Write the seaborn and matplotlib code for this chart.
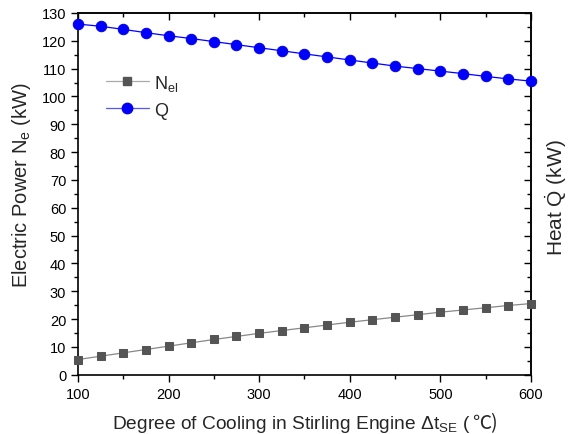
import matplotlib
matplotlib.use("Agg")
import matplotlib.pyplot as plt
import seaborn as sns
import numpy as np
import pandas as pd
from matplotlib.ticker import MultipleLocator, NullFormatter
from matplotlib.lines import Line2D

dt_se = [100, 125, 150, 175, 200, 225, 250, 275, 300, 325, 350,
         375, 400, 425, 450, 475, 500, 525, 550, 575, 600]
n_el = [5.5, 6.7, 7.9, 9.1, 10.3, 11.5, 12.7, 13.8, 14.9, 15.9, 16.9,
        17.9, 18.9, 19.8, 20.7, 21.6, 22.5, 23.3, 24.1, 24.9, 25.6]
q_heat = [126.0, 125.2, 124.1, 122.9, 121.8, 120.8, 119.7, 118.6, 117.5, 116.4, 115.3,
          114.2, 113.1, 112.0, 110.9, 110.0, 109.1, 108.2, 107.2, 106.3, 105.5]
legend_labels = ["N$_{el}$", "Q"]

sns.set_theme(style="ticks")
plt.rcParams['font.family'] = ['Liberation Sans', 'DejaVu Sans']
plt.rcParams['mathtext.fontset'] = 'custom'
plt.rcParams['mathtext.rm'] = 'Liberation Sans'
plt.rcParams['mathtext.it'] = 'Liberation Sans:italic'
plt.rcParams['mathtext.default'] = 'regular'
plt.rcParams['mathtext.fallback'] = 'stix'

df = pd.DataFrame({"x": dt_se, "nel": n_el, "q": q_heat})

W, H = 569, 435
fig = plt.figure(figsize=(W / 100, H / 100), dpi=100)
ax = fig.add_axes([0.137, 0.136, 0.796, 0.832])

sns.lineplot(data=df, x="x", y="nel", ax=ax, color="#888888", lw=0.9,
             marker="s", markersize=5.5, markerfacecolor="#555555",
             markeredgecolor="#555555", clip_on=False, zorder=3)
sns.lineplot(data=df, x="x", y="q", ax=ax, color="#0000FF", lw=0.9,
             marker="o", markersize=7.5, markerfacecolor="#0000FF",
             markeredgecolor="#0000FF", clip_on=False, zorder=3)

ax.set_xlim(100, 600)
ax.set_ylim(0, 130)
ax.xaxis.set_major_locator(MultipleLocator(100))
ax.xaxis.set_minor_locator(MultipleLocator(50))
ax.yaxis.set_major_locator(MultipleLocator(10))
ax.yaxis.set_minor_locator(MultipleLocator(5))
ax.tick_params(axis='both', which='major', direction='out', length=5, width=1,
               labelsize=10.5, color='black', labelcolor='black')
ax.tick_params(axis='both', which='minor', direction='out', length=3, width=1, color='black')
ax.tick_params(axis='x', which='both', top=False)
ax.tick_params(axis='y', which='both', right=False)
for sp in ax.spines.values():
    sp.set_visible(True)
    sp.set_linewidth(1.2)
    sp.set_color('black')
ax.set_xlabel("")
ax.set_ylabel("")

secy = ax.secondary_yaxis('right')
secy.yaxis.set_major_locator(MultipleLocator(10))
secy.yaxis.set_minor_locator(MultipleLocator(5))
secy.yaxis.set_major_formatter(NullFormatter())
secy.tick_params(axis='y', which='major', direction='in', length=5, width=1, color='black')
secy.tick_params(axis='y', which='minor', direction='in', length=3, width=1, color='black')
secy.spines['right'].set_linewidth(1.2)

secx = ax.secondary_xaxis('top')
secx.xaxis.set_major_locator(MultipleLocator(100))
secx.xaxis.set_minor_locator(MultipleLocator(50))
secx.xaxis.set_major_formatter(NullFormatter())
secx.tick_params(axis='x', which='major', direction='in', length=5, width=1, color='black')
secx.tick_params(axis='x', which='minor', direction='in', length=3, width=1, color='black')
secx.spines['top'].set_linewidth(1.2)

# axis labels
fig.text(22 / W, 1 - 185 / H, "Electric Power N$_e$ (kW)", fontsize=14.5,
         rotation=90, ha='center', va='center')
fig.text(0.978, 1 - 198 / H, "Heat $\\dot{Q}$ (kW)", fontsize=15, rotation=90,
         ha='center', va='center')

# x label in two pieces so that the degree sign comes from a CJK font
yb = 1 - 429 / H
t1 = fig.text(0, yb, "Degree of Cooling in Stirling Engine Δt$_{SE}$ (", fontsize=13.8,
              ha='left', va='baseline')
t2 = fig.text(0, yb, "℃)", fontsize=13.8, ha='left', va='baseline',
              family=['Noto Sans CJK SC', 'DejaVu Sans'])
fig.canvas.draw()
r = fig.canvas.get_renderer()
w1 = t1.get_window_extent(r).width
w2 = t2.get_window_extent(r).width
xc = (78 + 531) / 2
x0 = xc - (w1 + w2) / 2
t1.set_x(x0 / W)
t2.set_x((x0 + w1 + 1) / W)

handles = [
    Line2D([], [], color="#AAAAAA", lw=0.9, marker="s", markersize=5.5,
           markerfacecolor="#555555", markeredgecolor="#555555"),
    Line2D([], [], color="#5555FF", lw=0.9, marker="o", markersize=7.5,
           markerfacecolor="#0000FF", markeredgecolor="#0000FF"),
]
ax.legend(handles, legend_labels, loc='upper left', bbox_to_anchor=(0.025, 0.88),
          frameon=False, fontsize=13, handlelength=2.4, handletextpad=0.3,
          labelspacing=0.5)

fig.savefig("out.png", dpi=100)
